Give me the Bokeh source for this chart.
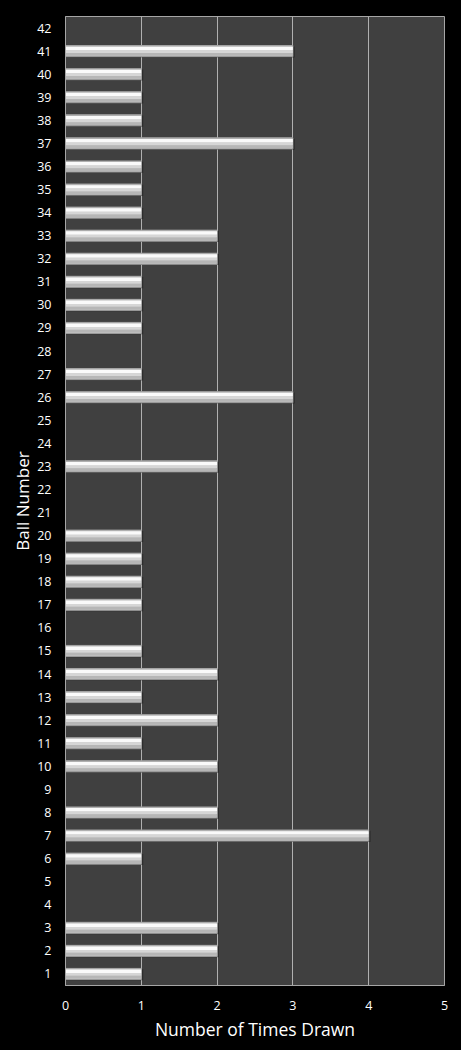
from bokeh.plotting import figure
from bokeh.models import Range1d, FixedTicker, ColumnDataSource
from bokeh.transform import dodge
from bokeh.embed import file_html
from bokeh.resources import INLINE

balls = list(range(1, 43))
times_drawn = [1, 2, 2, 0, 0, 1, 4, 2, 0, 2,
               1, 2, 1, 2, 1, 0, 1, 1, 1, 1,
               0, 0, 2, 0, 0, 3, 1, 0, 1, 1,
               1, 2, 2, 1, 1, 1, 3, 1, 1, 1,
               3, 0]
x_ticks = [0, 1, 2, 3, 4, 5]

src = ColumnDataSource(dict(y=balls, v=times_drawn,
                            vs=[t + 0.025 if t > 0 else 0 for t in times_drawn]))

p = figure(width=461, height=1050, output_backend="svg", toolbar_location=None,
           x_range=Range1d(0, 5), y_range=Range1d(0.5, 42.5),
           min_border_left=65, min_border_right=17, min_border_top=16, min_border_bottom=65,
           background_fill_color="#404040", border_fill_color="#000000",
           outline_line_color="#a6a6a6", outline_line_width=1)

FONT = "Open Sans"

p.xaxis.ticker = FixedTicker(ticks=x_ticks)
p.yaxis.ticker = FixedTicker(ticks=balls)
p.xaxis.axis_label = "Number of Times Drawn"
p.yaxis.axis_label = "Ball Number"
for ax in (p.xaxis[0], p.yaxis[0]):
    ax.axis_line_color = "#a6a6a6"
    ax.major_tick_line_color = None
    ax.minor_tick_line_color = None
    ax.major_label_text_color = "#ffffff"
    ax.major_label_text_font = FONT
    ax.major_label_text_font_size = "12.5px"
    ax.axis_label_text_color = "#ffffff"
    ax.axis_label_text_font = FONT
    ax.axis_label_text_font_style = "normal"
p.xaxis.axis_label_text_font_size = "17.5px"
p.yaxis.axis_label_text_font_size = "17px"
p.xaxis.major_label_standoff = 9
p.yaxis.major_label_standoff = 8
p.xaxis.axis_label_standoff = 4
p.yaxis.axis_label_standoff = 0

p.xgrid.ticker = FixedTicker(ticks=x_ticks)
p.xgrid.grid_line_color = "#b0b0b0"
p.xgrid.grid_line_width = 1
p.ygrid.grid_line_color = None

# shadow
p.hbar(y=dodge("y", -0.035, range=p.y_range), left=0, right="vs", height=0.48,
       source=src, fill_color="#1a1a1a", fill_alpha=0.5, line_color=None)
# main body
p.hbar(y="y", left=0, right="v", height=0.48, source=src,
       fill_color="#c4c4c4", line_color="#9a9a9a", line_width=1)
# gradient bands (top to bottom)
p.hbar(y=dodge("y", 0.215, range=p.y_range), left=0, right="v", height=0.05, source=src,
       fill_color="#b0b0b0", line_color=None)
p.hbar(y=dodge("y", 0.115, range=p.y_range), left=0, right="v", height=0.15, source=src,
       fill_color="#fafafa", line_color=None)
p.hbar(y=dodge("y", -0.02, range=p.y_range), left=0, right="v", height=0.12, source=src,
       fill_color="#d6d6d6", line_color=None)
p.hbar(y=dodge("y", -0.14, range=p.y_range), left=0, right="v", height=0.12, source=src,
       fill_color="#b6b6b6", line_color=None)

html = file_html(p, INLINE)
html = html.replace("<head>", "<head><style>html,body{background:#000000;}</style>", 1)
open("out.html", "w").write(html)
